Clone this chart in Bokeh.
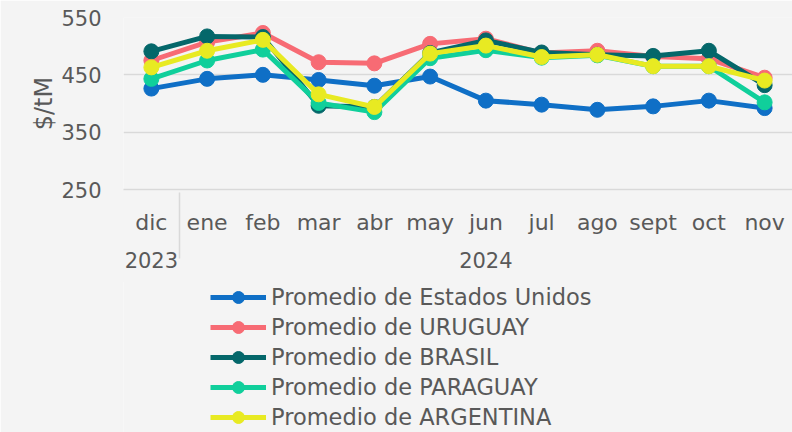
from bokeh.plotting import figure
from bokeh.layouts import column
from bokeh.models import FactorRange, Range1d, FixedTicker, Legend, LegendItem
from bokeh.embed import file_html
from bokeh.resources import INLINE

months = ["dic", "ene", "feb", "mar", "abr", "may", "jun", "jul", "ago", "sept", "oct", "nov"]
years = ["2023"] + ["2024"] * 11
y_ticks = [250, 350, 450, 550]

series_names = [
    "Promedio de Estados Unidos",
    "Promedio de URUGUAY",
    "Promedio de BRASIL",
    "Promedio de PARAGUAY",
    "Promedio de ARGENTINA",
]
usa = [426, 443, 450, 441, 431, 447, 405, 398, 389, 395, 405, 392]
uruguay = [475, 507, 523, 472, 470, 504, 513, 488, 492, 482, 478, 445]
brasil = [491, 517, 516, 396, 394, 488, 510, 489, 485, 483, 492, 432]
paraguay = [443, 475, 494, 401, 385, 479, 493, 480, 484, 465, 465, 402]
argentina = [463, 492, 511, 416, 394, 487, 501, 481, 485, 465, 465, 440]
series_values = [usa, uruguay, brasil, paraguay, argentina]
colors = ["#0F6FC6", "#F76B74", "#04676A", "#10CF9B", "#E8EA22"]

FONT = "DejaVu Sans"
TXT = "#595959"
GRID = "#D9D9D9"
BG = "#F4F4F4"

factors = list(zip(years, months))

# ---- main chart ----
p = figure(
    width=792, height=282,
    x_range=FactorRange(*factors, group_padding=0, factor_padding=0, range_padding=0),
    y_range=Range1d(250, 550),
    output_backend="svg", toolbar_location=None,
    min_border_left=123, min_border_top=17, min_border_right=0, min_border_bottom=93,
    background_fill_color=BG, border_fill_color=BG, outline_line_color=None,
)

p.xgrid.visible = False
p.ygrid.ticker = FixedTicker(ticks=y_ticks)
p.ygrid.grid_line_color = GRID
p.ygrid.grid_line_width = 1.5

p.yaxis.ticker = FixedTicker(ticks=y_ticks)
p.yaxis.axis_line_color = None
p.yaxis.major_tick_line_color = None
p.yaxis.minor_tick_line_color = None
p.yaxis.major_label_standoff = 16
p.yaxis.major_label_text_font = FONT
p.yaxis.major_label_text_font_size = "21px"
p.yaxis.major_label_text_color = TXT
p.yaxis.axis_label = "$/tM"
p.yaxis.axis_label_text_font = FONT
p.yaxis.axis_label_text_font_size = "24px"
p.yaxis.axis_label_text_font_style = "normal"
p.yaxis.axis_label_text_color = TXT
p.yaxis.axis_label_standoff = 0

p.xaxis.axis_line_color = GRID
p.xaxis.axis_line_width = 1.5
p.xaxis.major_tick_line_color = None
p.xaxis.minor_tick_line_color = None
p.xaxis.major_label_standoff = 14
p.xaxis.major_label_text_font = FONT
p.xaxis.major_label_text_font_size = "22px"
p.xaxis.major_label_text_color = TXT
p.xaxis.group_text_font = FONT
p.xaxis.group_text_font_size = "21px"
p.xaxis.group_text_color = TXT
p.xaxis.group_text_font_style = "normal"
p.xaxis.separator_line_color = GRID
p.xaxis.separator_line_width = 1.5

for name, vals, c in zip(series_names, series_values, colors):
    p.line(x=factors, y=vals, line_color=c, line_width=5, line_join="round")
    p.scatter(x=factors, y=vals, size=15, fill_color=c, line_color=c)

# ---- legend panel (series drawn outside its view; used only for legend swatches) ----
lg = figure(
    width=792, height=152, x_range=Range1d(0, 1), y_range=Range1d(0, 1),
    output_backend="svg", toolbar_location=None,
    min_border_left=0, min_border_right=0, min_border_top=0, min_border_bottom=0,
    background_fill_color=BG, border_fill_color=BG, outline_line_color=None,
    margin=(-2, 0, 0, 0),
)
lg.xaxis.visible = False
lg.yaxis.visible = False
lg.grid.visible = False

items = []
for name, vals, c in zip(series_names, series_values, colors):
    idx = list(range(len(vals)))
    lr = lg.line(x=idx, y=vals, line_color=c, line_width=5)
    sr = lg.scatter(x=idx, y=vals, size=15, fill_color=c, line_color=c)
    items.append(LegendItem(label=name, renderers=[lr, sr]))

legend = Legend(
    items=items, location=(87, 0), orientation="vertical",
    glyph_width=56, glyph_height=30, spacing=0, label_standoff=5,
    padding=0, margin=0, border_line_color=None, background_fill_alpha=0,
    label_text_font=FONT, label_text_font_size="22.5px", label_text_color=TXT,
)
lg.add_layout(legend, "center")

layout = column(p, lg, spacing=0)
open("out.html", "w").write(file_html(layout, INLINE))
